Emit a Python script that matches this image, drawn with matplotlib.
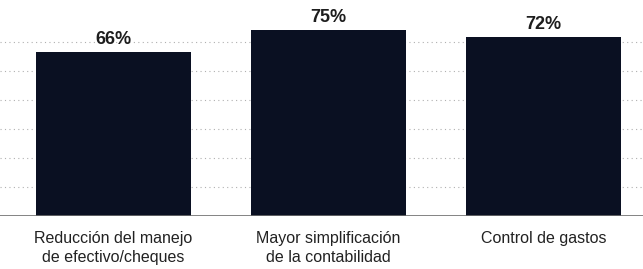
import matplotlib.pyplot as plt
from matplotlib import font_manager

categories = ['Reducción del manejo\nde efectivo/cheques',
              'Mayor simplificación\nde la contabilidad',
              'Control de gastos']
values = [66, 75, 72]
value_labels = ['66%', '75%', '72%']
grid_levels = [11.7, 23.4, 35.0, 46.7, 58.3, 70.0]

names = {f.name for f in font_manager.fontManager.ttflist}
label_font = 'Liberation Sans Narrow' if 'Liberation Sans Narrow' in names else 'Liberation Sans'

BAR = '#0a1022'

fig = plt.figure(figsize=(6.43, 2.69), dpi=100)
fig.patch.set_facecolor('white')
ax = fig.add_axes([0, 53 / 269, 1, 216 / 269])

x = range(len(values))
ax.bar(x, values, width=0.72, color=BAR, zorder=3)

for y in grid_levels:
    ax.axhline(y, color='#b0b0b0', lw=0.8, ls=(0, (1, 3)), zorder=1)
ax.axhline(0, color='#6e6e6e', lw=1.2, zorder=4)

for xi, v, lbl in zip(x, values, value_labels):
    ax.text(xi, v + 1.8, lbl, ha='center', va='bottom', fontsize=13,
            fontweight='bold', family='Liberation Sans', color='#1e1e1e', zorder=5)

ax.set_xlim(-0.528, 2.463)
ax.set_ylim(0, 87.1)
ax.set_xticks(list(x))
ax.set_xticklabels(categories, fontsize=11.5, family=label_font, color='#222222',
                   linespacing=1.3)
ax.tick_params(axis='x', length=0, pad=11)
ax.set_yticks([])
for s in ax.spines.values():
    s.set_visible(False)

fig.savefig('out.png', dpi=100, facecolor='white')
